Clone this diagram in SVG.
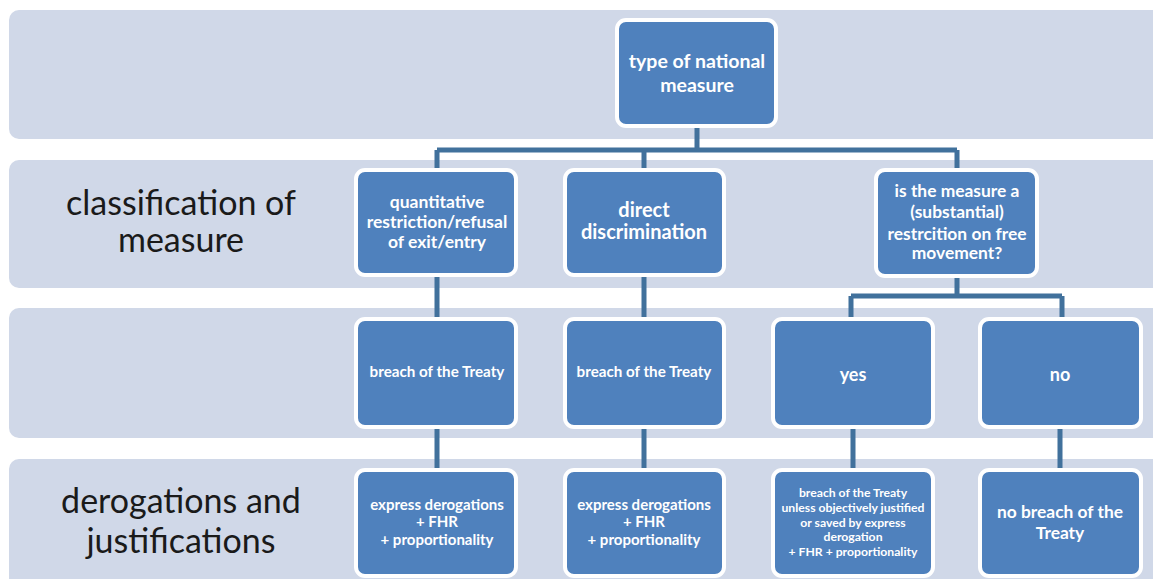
<svg xmlns="http://www.w3.org/2000/svg" width="1153" height="579" viewBox="0 0 1153 579">
  <style>
    .band { fill: #d0d8e8; }
    .node rect { fill: #4f81bd; stroke: #ffffff; stroke-width: 4; }
    .node text { fill: #ffffff; font-family: "Lato", "Open Sans", "Liberation Sans", sans-serif; font-weight: bold; text-anchor: middle; }
    .lbl { fill: #1a1a1a; font-family: "Lato", "Open Sans", "Liberation Sans", sans-serif; font-size: 34px; text-anchor: middle; }
    .conn { fill: none; stroke: #41719c; stroke-width: 5; }
  </style>
  <rect width="1153" height="579" fill="#ffffff"/>

  <!-- horizontal tier bands -->
  <g id="bands">
    <rect class="band" x="9" y="10" width="1160" height="129" rx="10"/>
    <rect class="band" x="9" y="160" width="1160" height="128" rx="10"/>
    <rect class="band" x="9" y="308" width="1160" height="130" rx="10"/>
    <rect class="band" x="9" y="459" width="1160" height="140" rx="10"/>
  </g>

  <!-- tier labels -->
  <g id="tier-labels">
    <text class="lbl" x="181" y="215">classification of</text>
    <text class="lbl" x="181" y="252">measure</text>
    <text class="lbl" x="181" y="513">derogations and</text>
    <text class="lbl" x="181" y="553">justifications</text>
  </g>

  <!-- connectors -->
  <g id="connectors" class="conn">
    <path d="M697 126 V150 M437 150 H957 M437 150 V172 M644 150 V172 M957 150 V172"/>
    <path d="M437 275 V321 M644 275 V321"/>
    <path d="M957 276 V296 M851 296 H1062 M851 296 V321 M1062 296 V321"/>
    <path d="M437 427 V472 M644 427 V472 M853 427 V472 M1060 427 V472"/>
  </g>

  <g id="n-type" class="node">
    <rect x="617" y="20" width="159" height="106" rx="9"/>
    <text font-size="19.5" x="697" y="68">type of national</text>
    <text font-size="19.5" x="697" y="92">measure</text>
  </g>

  <g id="n-quant" class="node">
    <rect x="356" y="170" width="160" height="105" rx="9"/>
    <text font-size="17.5" x="437" y="208">quantitative</text>
    <text font-size="17.5" x="437" y="228">restriction/refusal</text>
    <text font-size="17.5" x="437" y="248">of exit/entry</text>
  </g>

  <g id="n-direct" class="node">
    <rect x="565" y="170" width="159" height="105" rx="9"/>
    <text font-size="20" x="644" y="217">direct</text>
    <text font-size="20" x="644" y="239">discrimination</text>
  </g>

  <g id="n-question" class="node">
    <rect x="876" y="170" width="161" height="106" rx="9"/>
    <text font-size="17.4" x="957" y="197">is the measure a</text>
    <text font-size="17.4" x="957" y="218">(substantial)</text>
    <text font-size="17.4" x="957" y="240">restrcition on free</text>
    <text font-size="17.4" x="957" y="259">movement?</text>
  </g>

  <g id="n-breach1" class="node">
    <rect x="356" y="319" width="160" height="108" rx="9"/>
    <text font-size="15.2" x="437" y="377">breach of the Treaty</text>
  </g>

  <g id="n-breach2" class="node">
    <rect x="565" y="319" width="159" height="108" rx="9"/>
    <text font-size="15.2" x="644" y="377">breach of the Treaty</text>
  </g>

  <g id="n-yes" class="node">
    <rect x="773" y="319" width="160" height="108" rx="9"/>
    <text font-size="18" x="853" y="381">yes</text>
  </g>

  <g id="n-no" class="node">
    <rect x="980" y="319" width="161" height="108" rx="9"/>
    <text font-size="18" x="1060" y="381">no</text>
  </g>

  <g id="n-derog1" class="node">
    <rect x="356" y="470" width="160" height="106" rx="9"/>
    <text font-size="15" x="437" y="510">express derogations</text>
    <text font-size="15" x="437" y="527">+ FHR</text>
    <text font-size="15" x="437" y="545">+ proportionality</text>
  </g>

  <g id="n-derog2" class="node">
    <rect x="565" y="470" width="159" height="106" rx="9"/>
    <text font-size="15" x="644" y="510">express derogations</text>
    <text font-size="15" x="644" y="527">+ FHR</text>
    <text font-size="15" x="644" y="545">+ proportionality</text>
  </g>

  <g id="n-unless" class="node">
    <rect x="773" y="470" width="160" height="106" rx="9"/>
    <text font-size="12.2" x="853" y="497">breach of the Treaty</text>
    <text font-size="12.2" x="853" y="512">unless objectively justified</text>
    <text font-size="12.2" x="853" y="527">or saved by express</text>
    <text font-size="12.2" x="853" y="541">derogation</text>
    <text font-size="12.2" x="853" y="556">+ FHR + proportionality</text>
  </g>

  <g id="n-nobreach" class="node">
    <rect x="980" y="470" width="161" height="106" rx="9"/>
    <text font-size="17.4" x="1060" y="518">no breach of the</text>
    <text font-size="17.4" x="1060" y="539">Treaty</text>
  </g>
</svg>
